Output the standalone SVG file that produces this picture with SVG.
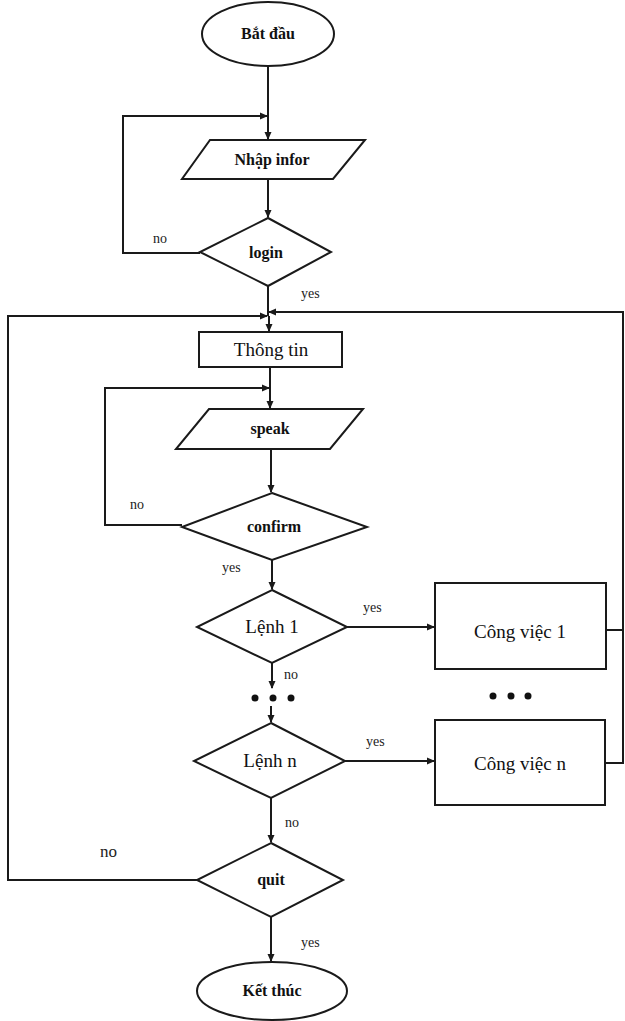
<svg xmlns="http://www.w3.org/2000/svg" width="625" height="1021" viewBox="0 0 625 1021">
<style>
.s{fill:#fff;stroke:#1a1a1a;stroke-width:2}
.c{fill:none;stroke:#1a1a1a;stroke-width:2}
.b{font-family:"Liberation Serif",serif;font-weight:bold;font-size:16px;fill:#111;text-anchor:middle}
.r{font-family:"Liberation Serif",serif;font-size:19px;fill:#111;text-anchor:middle}
.l{font-family:"Liberation Serif",serif;font-size:14px;fill:#222}
</style>
<defs>
<marker id="a" markerWidth="8" markerHeight="8" refX="7" refY="4" orient="auto" markerUnits="userSpaceOnUse">
<path d="M0,0.5 L8,4 L0,7.5 Z" fill="#1a1a1a"/>
</marker>
</defs>
<rect width="625" height="1021" fill="#fff"/>
<g id="connectors">
<path class="c" d="M268,66 V139" marker-end="url(#a)"/>
<path class="c" d="M200,253 H123 V116 H267" marker-end="url(#a)"/>
<path class="c" d="M268,179 V217" marker-end="url(#a)"/>
<path class="c" d="M268,286 V316"/>
<path class="c" d="M197,880 H8 V316 H267" marker-end="url(#a)"/>
<path class="c" d="M605,763 H623 V312 H269" marker-end="url(#a)"/>
<path class="c" d="M606,630 H623"/>
<path class="c" d="M269,316 V331" marker-end="url(#a)"/>
<path class="c" d="M270,367 V408" marker-end="url(#a)"/>
<path class="c" d="M182,525 H105 V388 H269" marker-end="url(#a)"/>
<path class="c" d="M271,449 V492" marker-end="url(#a)"/>
<path class="c" d="M272,560 V589" marker-end="url(#a)"/>
<path class="c" d="M347,627 H434" marker-end="url(#a)"/>
<path class="c" d="M272,663 V688" marker-end="url(#a)"/>
<path class="c" d="M271,706 V722" marker-end="url(#a)"/>
<path class="c" d="M345,761 H434" marker-end="url(#a)"/>
<path class="c" d="M271,798 V842" marker-end="url(#a)"/>
<path class="c" d="M271,917 V961" marker-end="url(#a)"/>
<text class="l" x="153" y="243">no</text>
<text class="l" x="301" y="298">yes</text>
<text class="l" x="130" y="509">no</text>
<text class="l" x="222" y="572">yes</text>
<text class="l" x="363" y="612">yes</text>
<text class="l" x="284" y="679">no</text>
<text class="l" x="366" y="746">yes</text>
<text class="l" x="285" y="827">no</text>
<text class="l" x="100" y="857" style="font-size:17px">no</text>
<text class="l" x="301" y="947">yes</text>
</g>
<g id="dots" fill="#111">
<circle cx="255" cy="698" r="3.5"/><circle cx="273" cy="698" r="3.5"/><circle cx="291" cy="698" r="3.5"/>
<circle cx="493" cy="696" r="3.5"/><circle cx="511" cy="696" r="3.5"/><circle cx="528" cy="696" r="3.5"/>
</g>
<g id="start"><ellipse class="s" cx="268" cy="34" rx="66" ry="32"/><text class="b" x="268" y="39">Bắt đầu</text></g>
<g id="nhap"><polygon class="s" points="210,140 365,140 333,179 182,179"/><text class="b" x="272" y="165">Nhập infor</text></g>
<g id="login"><polygon class="s" points="268,218 331,252 268,286 200,252"/><text class="b" x="266" y="258">login</text></g>
<g id="thongtin"><rect class="s" x="199" y="332" width="143" height="35"/><text class="r" x="271" y="356">Thông tin</text></g>
<g id="speak"><polygon class="s" points="209,409 363,409 330,449 176,449"/><text class="b" x="270" y="434">speak</text></g>
<g id="confirm"><polygon class="s" points="272,493 367,527 272,560 182,527"/><text class="b" x="274" y="532">confirm</text></g>
<g id="lenh1"><polygon class="s" points="272,590 347,627 272,663 197,627"/><text class="r" x="272" y="633">Lệnh 1</text></g>
<g id="cv1"><rect class="s" x="435" y="583" width="171" height="86"/><text class="r" x="520" y="638">Công việc 1</text></g>
<g id="lenhn"><polygon class="s" points="271,723 345,761 271,798 194,761"/><text class="r" x="270" y="767">Lệnh n</text></g>
<g id="cvn"><rect class="s" x="435" y="720" width="170" height="85"/><text class="r" x="520" y="770">Công việc n</text></g>
<g id="quit"><polygon class="s" points="271,843 343,880 271,917 197,880"/><text class="b" x="271" y="885">quit</text></g>
<g id="end"><ellipse class="s" cx="272" cy="991" rx="75" ry="29"/><text class="b" x="272" y="996">Kết thúc</text></g>
</svg>
